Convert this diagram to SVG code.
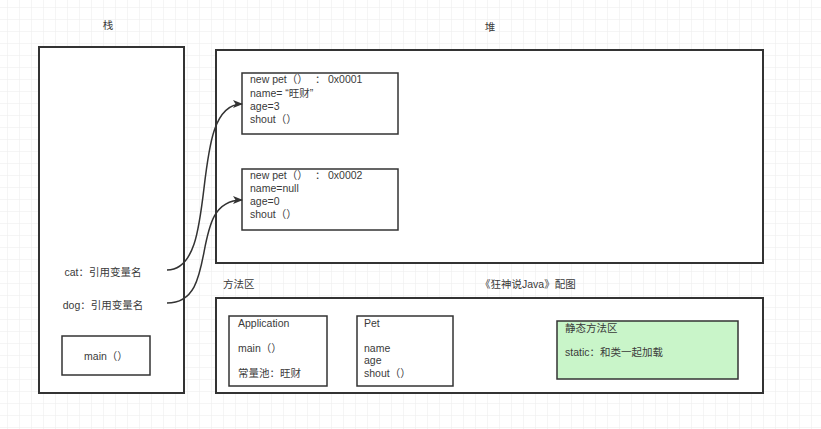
<svg xmlns="http://www.w3.org/2000/svg" width="821" height="429" viewBox="0 0 821 429">
<style>
text{font-family:"Liberation Sans","Noto Sans CJK SC",sans-serif;font-size:10.5px;fill:#3a3a3a}
.box{fill:#fff;stroke:#333;stroke-width:1.5}
.outer{fill:#fff;stroke:#333;stroke-width:2}
.edge{fill:none;stroke:#333;stroke-width:1.5}
</style>
<defs>
<pattern id="grid" x="7" y="7" width="12" height="12" patternUnits="userSpaceOnUse">
<path d="M0,0H12M0,0V12" fill="none" stroke="#ebebeb" stroke-width="1"/>
</pattern>
<marker id="arr" viewBox="0 0 10 10" refX="9" refY="5" markerWidth="10" markerHeight="10" markerUnits="userSpaceOnUse" orient="auto">
<path d="M0,1 L10,5 L0,9 L2.5,5 Z" fill="#333"/>
</marker>
</defs>
<rect width="821" height="429" fill="#fff"/>
<rect width="821" height="429" fill="url(#grid)"/>

<g id="stack">
<rect class="outer" x="39" y="47" width="145" height="346"/>
<text x="108" y="29" text-anchor="middle">栈</text>
<text x="103" y="276" text-anchor="middle">cat：引用变量名</text>
<text x="103" y="309" text-anchor="middle">dog：引用变量名</text>
</g>
<g id="main">
<rect class="box" x="62" y="336" width="88" height="39"/>
<text x="106" y="360" text-anchor="middle">main（）</text>
</g>

<g id="heap">
<rect class="outer" x="216" y="50" width="547" height="213"/>
<text x="490" y="31" text-anchor="middle">堆</text>
</g>
<g id="obj1">
<rect class="box" x="242" y="73" width="156" height="61"/>
<text x="250" y="83">new pet（）</text><text x="315" y="83">：</text><text x="328" y="83">0x0001</text>
<text x="250" y="97">name= “旺财”</text>
<text x="250" y="110">age=3</text>
<text x="250" y="123">shout（）</text>
</g>
<g id="obj2">
<rect class="box" x="242" y="169" width="156" height="61"/>
<text x="250" y="179">new pet（）</text><text x="315" y="179">：</text><text x="328" y="179">0x0002</text>
<text x="250" y="192">name=null</text>
<text x="250" y="205">age=0</text>
<text x="250" y="218">shout（）</text>
</g>

<g id="method">
<text x="223" y="288">方法区</text>
<text x="480" y="288">《狂神说Java》配图</text>
<rect class="outer" x="216" y="298" width="547" height="95"/>
</g>
<g id="application">
<rect class="box" x="229" y="316" width="98" height="70"/>
<text x="238" y="327">Application</text>
<text x="238" y="352">main（）</text>
<text x="238" y="377">常量池：旺财</text>
</g>
<g id="pet">
<rect class="box" x="357" y="316" width="96" height="70"/>
<text x="364" y="327">Pet</text>
<text x="364" y="352">name</text>
<text x="364" y="364">age</text>
<text x="364" y="377">shout（）</text>
</g>
<g id="static">
<rect x="557" y="321" width="181" height="58" fill="#c9f5c9" stroke="#333" stroke-width="1.5"/>
<text x="565" y="332">静态方法区</text>
<text x="565" y="356">static：和类一起加载</text>
</g>

<g id="connectors">
<path class="edge" d="M167,270 C222,270 186,104 242,104" marker-end="url(#arr)"/>
<path class="edge" d="M167,303 C222,303 186,200 242,200" marker-end="url(#arr)"/>
</g>
</svg>
